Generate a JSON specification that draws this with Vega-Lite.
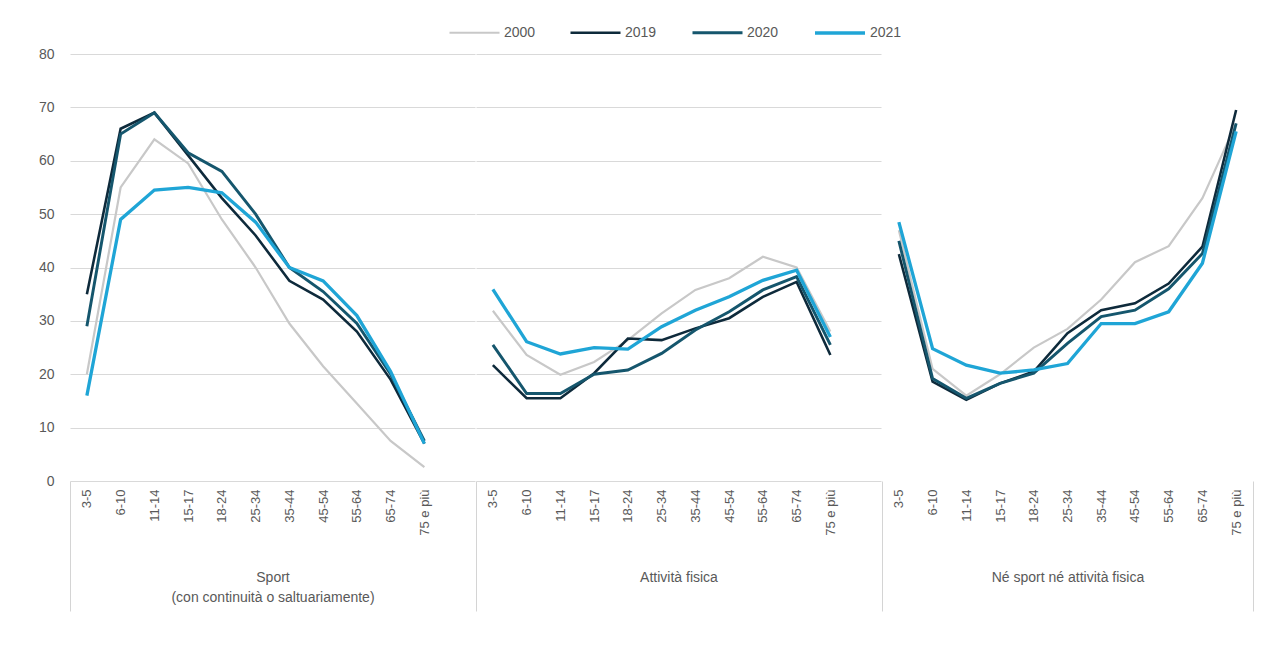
{
  "$schema": "https://vega.github.io/schema/vega-lite/v6.json",
  "padding": {"left": 38, "top": 6, "right": 5, "bottom": 5},
  "datasets": {
    "d": [
      {"g": "Sport", "eta": "3-5", "anno": "2000", "v": 20},
      {"g": "Sport", "eta": "6-10", "anno": "2000", "v": 55},
      {"g": "Sport", "eta": "11-14", "anno": "2000", "v": 64},
      {"g": "Sport", "eta": "15-17", "anno": "2000", "v": 59.5},
      {"g": "Sport", "eta": "18-24", "anno": "2000", "v": 49},
      {"g": "Sport", "eta": "25-34", "anno": "2000", "v": 40},
      {"g": "Sport", "eta": "35-44", "anno": "2000", "v": 29.5},
      {"g": "Sport", "eta": "45-54", "anno": "2000", "v": 21.5},
      {"g": "Sport", "eta": "55-64", "anno": "2000", "v": 14.5},
      {"g": "Sport", "eta": "65-74", "anno": "2000", "v": 7.5},
      {"g": "Sport", "eta": "75 e più", "anno": "2000", "v": 2.6},
      {"g": "Sport", "eta": "3-5", "anno": "2019", "v": 35},
      {"g": "Sport", "eta": "6-10", "anno": "2019", "v": 66},
      {"g": "Sport", "eta": "11-14", "anno": "2019", "v": 69},
      {"g": "Sport", "eta": "15-17", "anno": "2019", "v": 61},
      {"g": "Sport", "eta": "18-24", "anno": "2019", "v": 53},
      {"g": "Sport", "eta": "25-34", "anno": "2019", "v": 46},
      {"g": "Sport", "eta": "35-44", "anno": "2019", "v": 37.5},
      {"g": "Sport", "eta": "45-54", "anno": "2019", "v": 34},
      {"g": "Sport", "eta": "55-64", "anno": "2019", "v": 28},
      {"g": "Sport", "eta": "65-74", "anno": "2019", "v": 19},
      {"g": "Sport", "eta": "75 e più", "anno": "2019", "v": 7},
      {"g": "Sport", "eta": "3-5", "anno": "2020", "v": 29},
      {"g": "Sport", "eta": "6-10", "anno": "2020", "v": 65},
      {"g": "Sport", "eta": "11-14", "anno": "2020", "v": 69},
      {"g": "Sport", "eta": "15-17", "anno": "2020", "v": 61.5},
      {"g": "Sport", "eta": "18-24", "anno": "2020", "v": 58},
      {"g": "Sport", "eta": "25-34", "anno": "2020", "v": 50},
      {"g": "Sport", "eta": "35-44", "anno": "2020", "v": 40},
      {"g": "Sport", "eta": "45-54", "anno": "2020", "v": 35.5},
      {"g": "Sport", "eta": "55-64", "anno": "2020", "v": 29.5},
      {"g": "Sport", "eta": "65-74", "anno": "2020", "v": 20},
      {"g": "Sport", "eta": "75 e più", "anno": "2020", "v": 7.5},
      {"g": "Sport", "eta": "3-5", "anno": "2021", "v": 16},
      {"g": "Sport", "eta": "6-10", "anno": "2021", "v": 49},
      {"g": "Sport", "eta": "11-14", "anno": "2021", "v": 54.5},
      {"g": "Sport", "eta": "15-17", "anno": "2021", "v": 55},
      {"g": "Sport", "eta": "18-24", "anno": "2021", "v": 54},
      {"g": "Sport", "eta": "25-34", "anno": "2021", "v": 48.5},
      {"g": "Sport", "eta": "35-44", "anno": "2021", "v": 40},
      {"g": "Sport", "eta": "45-54", "anno": "2021", "v": 37.5},
      {"g": "Sport", "eta": "55-64", "anno": "2021", "v": 31},
      {"g": "Sport", "eta": "65-74", "anno": "2021", "v": 20.5},
      {"g": "Sport", "eta": "75 e più", "anno": "2021", "v": 7},
      {"g": "Attività fisica", "eta": "3-5", "anno": "2000", "v": 31.9},
      {"g": "Attività fisica", "eta": "6-10", "anno": "2000", "v": 23.6},
      {"g": "Attività fisica", "eta": "11-14", "anno": "2000", "v": 19.9},
      {"g": "Attività fisica", "eta": "15-17", "anno": "2000", "v": 22.3},
      {"g": "Attività fisica", "eta": "18-24", "anno": "2000", "v": 26.4},
      {"g": "Attività fisica", "eta": "25-34", "anno": "2000", "v": 31.4},
      {"g": "Attività fisica", "eta": "35-44", "anno": "2000", "v": 35.8},
      {"g": "Attività fisica", "eta": "45-54", "anno": "2000", "v": 38},
      {"g": "Attività fisica", "eta": "55-64", "anno": "2000", "v": 42},
      {"g": "Attività fisica", "eta": "65-74", "anno": "2000", "v": 40},
      {"g": "Attività fisica", "eta": "75 e più", "anno": "2000", "v": 28},
      {"g": "Attività fisica", "eta": "3-5", "anno": "2019", "v": 21.7},
      {"g": "Attività fisica", "eta": "6-10", "anno": "2019", "v": 15.5},
      {"g": "Attività fisica", "eta": "11-14", "anno": "2019", "v": 15.5},
      {"g": "Attività fisica", "eta": "15-17", "anno": "2019", "v": 20.2},
      {"g": "Attività fisica", "eta": "18-24", "anno": "2019", "v": 26.7},
      {"g": "Attività fisica", "eta": "25-34", "anno": "2019", "v": 26.4},
      {"g": "Attività fisica", "eta": "35-44", "anno": "2019", "v": 28.6},
      {"g": "Attività fisica", "eta": "45-54", "anno": "2019", "v": 30.5},
      {"g": "Attività fisica", "eta": "55-64", "anno": "2019", "v": 34.5},
      {"g": "Attività fisica", "eta": "65-74", "anno": "2019", "v": 37.3},
      {"g": "Attività fisica", "eta": "75 e più", "anno": "2019", "v": 23.6},
      {"g": "Attività fisica", "eta": "3-5", "anno": "2020", "v": 25.5},
      {"g": "Attività fisica", "eta": "6-10", "anno": "2020", "v": 16.4},
      {"g": "Attività fisica", "eta": "11-14", "anno": "2020", "v": 16.4},
      {"g": "Attività fisica", "eta": "15-17", "anno": "2020", "v": 20},
      {"g": "Attività fisica", "eta": "18-24", "anno": "2020", "v": 20.8},
      {"g": "Attività fisica", "eta": "25-34", "anno": "2020", "v": 23.9},
      {"g": "Attività fisica", "eta": "35-44", "anno": "2020", "v": 28.3},
      {"g": "Attività fisica", "eta": "45-54", "anno": "2020", "v": 31.7},
      {"g": "Attività fisica", "eta": "55-64", "anno": "2020", "v": 35.8},
      {"g": "Attività fisica", "eta": "65-74", "anno": "2020", "v": 38.3},
      {"g": "Attività fisica", "eta": "75 e più", "anno": "2020", "v": 25.5},
      {"g": "Attività fisica", "eta": "3-5", "anno": "2021", "v": 35.9},
      {"g": "Attività fisica", "eta": "6-10", "anno": "2021", "v": 26.1},
      {"g": "Attività fisica", "eta": "11-14", "anno": "2021", "v": 23.8},
      {"g": "Attività fisica", "eta": "15-17", "anno": "2021", "v": 25},
      {"g": "Attività fisica", "eta": "18-24", "anno": "2021", "v": 24.7},
      {"g": "Attività fisica", "eta": "25-34", "anno": "2021", "v": 28.9},
      {"g": "Attività fisica", "eta": "35-44", "anno": "2021", "v": 32},
      {"g": "Attività fisica", "eta": "45-54", "anno": "2021", "v": 34.5},
      {"g": "Attività fisica", "eta": "55-64", "anno": "2021", "v": 37.6},
      {"g": "Attività fisica", "eta": "65-74", "anno": "2021", "v": 39.5},
      {"g": "Attività fisica", "eta": "75 e più", "anno": "2021", "v": 27},
      {"g": "Né sport né attività fisica", "eta": "3-5", "anno": "2000", "v": 47},
      {"g": "Né sport né attività fisica", "eta": "6-10", "anno": "2000", "v": 21},
      {"g": "Né sport né attività fisica", "eta": "11-14", "anno": "2000", "v": 16},
      {"g": "Né sport né attività fisica", "eta": "15-17", "anno": "2000", "v": 20},
      {"g": "Né sport né attività fisica", "eta": "18-24", "anno": "2000", "v": 25},
      {"g": "Né sport né attività fisica", "eta": "25-34", "anno": "2000", "v": 28.5},
      {"g": "Né sport né attività fisica", "eta": "35-44", "anno": "2000", "v": 34},
      {"g": "Né sport né attività fisica", "eta": "45-54", "anno": "2000", "v": 41},
      {"g": "Né sport né attività fisica", "eta": "55-64", "anno": "2000", "v": 44},
      {"g": "Né sport né attività fisica", "eta": "65-74", "anno": "2000", "v": 53},
      {"g": "Né sport né attività fisica", "eta": "75 e più", "anno": "2000", "v": 67},
      {"g": "Né sport né attività fisica", "eta": "3-5", "anno": "2019", "v": 42.5},
      {"g": "Né sport né attività fisica", "eta": "6-10", "anno": "2019", "v": 18.6},
      {"g": "Né sport né attività fisica", "eta": "11-14", "anno": "2019", "v": 15.2},
      {"g": "Né sport né attività fisica", "eta": "15-17", "anno": "2019", "v": 18.3},
      {"g": "Né sport né attività fisica", "eta": "18-24", "anno": "2019", "v": 20.5},
      {"g": "Né sport né attività fisica", "eta": "25-34", "anno": "2019", "v": 27.7},
      {"g": "Né sport né attività fisica", "eta": "35-44", "anno": "2019", "v": 32},
      {"g": "Né sport né attività fisica", "eta": "45-54", "anno": "2019", "v": 33.3},
      {"g": "Né sport né attività fisica", "eta": "55-64", "anno": "2019", "v": 37},
      {"g": "Né sport né attività fisica", "eta": "65-74", "anno": "2019", "v": 43.9},
      {"g": "Né sport né attività fisica", "eta": "75 e più", "anno": "2019", "v": 69.5},
      {"g": "Né sport né attività fisica", "eta": "3-5", "anno": "2020", "v": 45},
      {"g": "Né sport né attività fisica", "eta": "6-10", "anno": "2020", "v": 19.2},
      {"g": "Né sport né attività fisica", "eta": "11-14", "anno": "2020", "v": 15.5},
      {"g": "Né sport né attività fisica", "eta": "15-17", "anno": "2020", "v": 18.3},
      {"g": "Né sport né attività fisica", "eta": "18-24", "anno": "2020", "v": 20.2},
      {"g": "Né sport né attività fisica", "eta": "25-34", "anno": "2020", "v": 25.8},
      {"g": "Né sport né attività fisica", "eta": "35-44", "anno": "2020", "v": 30.8},
      {"g": "Né sport né attività fisica", "eta": "45-54", "anno": "2020", "v": 32},
      {"g": "Né sport né attività fisica", "eta": "55-64", "anno": "2020", "v": 36},
      {"g": "Né sport né attività fisica", "eta": "65-74", "anno": "2020", "v": 42.6},
      {"g": "Né sport né attività fisica", "eta": "75 e più", "anno": "2020", "v": 67},
      {"g": "Né sport né attività fisica", "eta": "3-5", "anno": "2021", "v": 48.5},
      {"g": "Né sport né attività fisica", "eta": "6-10", "anno": "2021", "v": 24.8},
      {"g": "Né sport né attività fisica", "eta": "11-14", "anno": "2021", "v": 21.7},
      {"g": "Né sport né attività fisica", "eta": "15-17", "anno": "2021", "v": 20.2},
      {"g": "Né sport né attività fisica", "eta": "18-24", "anno": "2021", "v": 20.8},
      {"g": "Né sport né attività fisica", "eta": "25-34", "anno": "2021", "v": 22},
      {"g": "Né sport né attività fisica", "eta": "35-44", "anno": "2021", "v": 29.5},
      {"g": "Né sport né attività fisica", "eta": "45-54", "anno": "2021", "v": 29.5},
      {"g": "Né sport né attività fisica", "eta": "55-64", "anno": "2021", "v": 31.7},
      {"g": "Né sport né attività fisica", "eta": "65-74", "anno": "2021", "v": 40.8},
      {"g": "Né sport né attività fisica", "eta": "75 e più", "anno": "2021", "v": 65.5}
    ]
  },
  "spacing": 0,
  "hconcat": [
    {
      "width": 405,
      "height": 427,
      "data": {"name": "d"},
      "transform": [{"filter": "datum.g === 'Sport'"}],
      "mark": {"type": "line"},
      "encoding": {
        "x": {
          "field": "eta", "type": "ordinal",
          "scale": {"type": "point", "padding": 0.5, "domain": ["3-5","6-10","11-14","15-17","18-24","25-34","35-44","45-54","55-64","65-74","75 e più"," "]},
          "axis": {
            "title": ["Sport", "(con continuità o saltuariamente)"],
            "tickColor": {"condition": {"test": "datum.value === '3-5'", "value": "#d4d4d4"}, "value": "transparent"}
          }
        },
        "y": {
          "field": "v", "type": "quantitative",
          "scale": {"domain": [0, 80], "nice": false},
          "axis": {"title": null, "tickCount": 8, "domain": false, "ticks": false, "labelPadding": 16, "labelFontSize": 14, "labelColor": "#595959", "grid": true, "gridColor": "#d9d9d9"}
        },
        "color": {"field": "anno", "type": "nominal", "scale": {"domain": ["2000","2019","2020","2021"], "range": ["#c8c8c8","#0e2a3b","#15566d","#1fa5d6"]}},
        "strokeWidth": {"field": "anno", "type": "nominal", "scale": {"domain": ["2000","2019","2020","2021"], "range": [2.2, 3.3, 3.3, 3]}},
        "order": {"value": null}
      }
    },
    {
      "width": 405,
      "height": 427,
      "data": {"name": "d"},
      "transform": [{"filter": "datum.g === 'Attività fisica'"}],
      "mark": {"type": "line"},
      "encoding": {
        "x": {
          "field": "eta", "type": "ordinal",
          "scale": {"type": "point", "padding": 0.5, "domain": ["3-5","6-10","11-14","15-17","18-24","25-34","35-44","45-54","55-64","65-74","75 e più"," "]},
          "axis": {
            "title": "Attività fisica",
            "tickColor": {"condition": {"test": "datum.value === '3-5'", "value": "#d4d4d4"}, "value": "transparent"}
          }
        },
        "y": {
          "field": "v", "type": "quantitative",
          "scale": {"domain": [0, 80], "nice": false},
          "axis": {"title": null, "tickCount": 8, "domain": false, "ticks": false, "labels": false, "grid": true, "gridColor": "#d9d9d9"}
        },
        "color": {"field": "anno", "type": "nominal", "scale": {"domain": ["2000","2019","2020","2021"], "range": ["#c8c8c8","#0e2a3b","#15566d","#1fa5d6"]}},
        "strokeWidth": {"field": "anno", "type": "nominal", "scale": {"domain": ["2000","2019","2020","2021"], "range": [2.2, 3.3, 3.3, 3]}},
        "order": {"value": null}
      }
    },
    {
      "width": 371,
      "height": 427,
      "data": {"name": "d"},
      "transform": [{"filter": "datum.g === 'Né sport né attività fisica'"}],
      "layer": [
        {
          "mark": {"type": "line"},
          "encoding": {
            "x": {
              "field": "eta", "type": "ordinal",
              "scale": {"type": "point", "padding": 0.5, "domain": ["3-5","6-10","11-14","15-17","18-24","25-34","35-44","45-54","55-64","65-74","75 e più"]},
              "axis": {
                "orient": "bottom",
                "title": "Né sport né attività fisica",
                "tickColor": {"condition": {"test": "datum.value === '3-5'", "value": "#d4d4d4"}, "value": "transparent"}
              }
            },
            "y": {
              "field": "v", "type": "quantitative",
              "scale": {"domain": [0, 80], "nice": false},
              "axis": {"title": null, "tickCount": 8, "domain": false, "ticks": false, "labels": false, "grid": true, "gridColor": "#d9d9d9"}
            },
            "color": {"field": "anno", "type": "nominal", "scale": {"domain": ["2000","2019","2020","2021"], "range": ["#c8c8c8","#0e2a3b","#15566d","#1fa5d6"]}},
            "strokeWidth": {"field": "anno", "type": "nominal", "scale": {"domain": ["2000","2019","2020","2021"], "range": [2.2, 3.3, 3.3, 3]}},
            "order": {"value": null}
          }
        },
        {
          "mark": {"type": "point", "opacity": 0},
          "encoding": {
            "x": {
              "field": "eta", "type": "ordinal",
              "axis": {"orient": "bottom", "title": null, "labels": false, "values": ["75 e più"], "tickOffset": 16.875, "tickColor": "#d4d4d4"}
            },
            "y": {"field": "v", "type": "quantitative", "axis": null}
          }
        }
      ],
      "resolve": {"axis": {"x": "independent"}}
    }
  ],
  "config": {
    "font": "Liberation Sans",
    "view": {"stroke": null},
    "axisX": {
      "labelAngle": -90, "labelFontSize": 13, "labelColor": "#595959", "labelOverlap": false,
      "domain": false, "grid": false, "ticks": true, "tickSize": 130, "tickWidth": 1,
      "tickOffset": -16.875, "labelOffset": 16.875, "labelPadding": -122,
      "titleY": 89, "titleBaseline": "top", "titleFontSize": 14, "titleFontWeight": "normal", "titleColor": "#595959", "titleLineHeight": 20
    },
    "legend": {
      "orient": "none", "legendX": 378, "legendY": -48, "direction": "horizontal", "title": null,
      "symbolType": "stroke", "symbolSize": 2500, "labelFontSize": 14, "labelColor": "#595959",
      "columnPadding": 29, "labelOffset": 3
    }
  }
}
